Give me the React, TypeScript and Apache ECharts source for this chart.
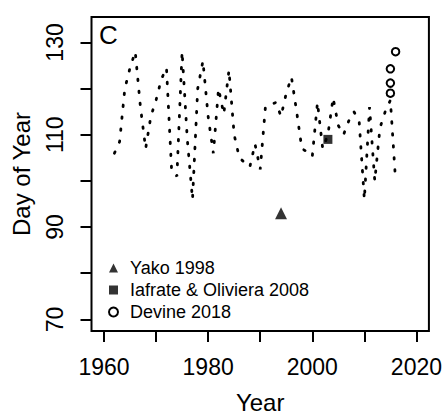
import React, { useEffect, useRef } from "react";
import * as echarts from "echarts";

const years = [
  1962, 1963, 1964, 1965, 1966, 1967, 1968, 1969, 1970, 1971,
  1972, 1973, 1974, 1975, 1976, 1977, 1978, 1979, 1980, 1981,
  1982, 1983, 1984, 1985, 1986, 1987, 1988, 1989, 1990, 1991,
  1992, 1993, 1994, 1995, 1996, 1997, 1998, 1999, 2000, 2001,
  2002, 2003, 2004, 2005, 2006, 2007, 2008, 2009, 2010, 2011,
  2012, 2013, 2014, 2015, 2016,
];
const dayOfYear = [
  106, 108.5, 120, 124.5, 128, 116, 107, 114, 117.5, 122,
  124.5, 102, 101, 128, 109, 96, 120, 126, 114, 106,
  120, 114.5, 124, 110, 105, 104, 103, 108, 102.5, 116,
  116.5, 117, 114, 119, 122.5, 115, 107, 106.3, 105.3, 117,
  107, 110, 118, 112, 110, 113, 115, 113, 96, 116,
  100, 111.5, 115, 117.5, 100,
];

const yakoYears = [1994];
const yakoValues = [93];
const iafrateYears = [2003];
const iafrateValues = [109];
const devineYears = [2015, 2015, 2015, 2016];
const devineValues = [119, 121.2, 124.3, 128];

const xTicks = [1960, 1970, 1980, 1990, 2000, 2010, 2020];
const xLabels = [1960, 1980, 2000, 2020];
const yTicks = [70, 80, 90, 100, 110, 120, 130];
const yLabels = [70, 90, 110, 130];

const seriesNames = ["Yako 1998", "Iafrate & Oliviera 2008", "Devine 2018"];

const FONT = "'Liberation Sans', Arial, sans-serif";

export default function App() {
  const ref = useRef<HTMLDivElement>(null);
  useEffect(() => {
    if (!ref.current) return;
    const chart = echarts.init(ref.current, undefined, { renderer: "svg" });
    const zip = (xs: number[], ys: number[]) => xs.map((x, i) => [x, ys[i]]);
    chart.setOption({
      animation: false,
      backgroundColor: "#fff",
      textStyle: { fontFamily: FONT, color: "#000" },
      title: {
        text: "C",
        left: 94,
        top: 17,
        textStyle: { fontFamily: FONT, fontSize: 26, fontWeight: "normal", color: "#000" },
      },
      grid: {
        left: 91.5,
        right: 16,
        top: 17,
        bottom: 86,
        show: true,
        borderColor: "#000",
        borderWidth: 2,
        backgroundColor: "transparent",
      },
      legend: {
        orient: "vertical",
        left: 103,
        top: 254,
        itemWidth: 9,
        itemHeight: 9,
        itemGap: 4,
        symbolKeepAspect: true,
        textStyle: {
          fontFamily: FONT,
          fontSize: 18,
          color: "#000",
          padding: [0, 0, 0, 7],
        },
        data: [
          { name: seriesNames[0], icon: "triangle" },
          { name: seriesNames[1], icon: "rect" },
          { name: seriesNames[2], icon: "emptyCircle" },
        ],
      },
      xAxis: {
        type: "value",
        min: 1957.6,
        max: 2022.4,
        name: "Year",
        nameLocation: "middle",
        nameGap: 59,
        nameTextStyle: { fontFamily: FONT, fontSize: 24, color: "#000" },
        axisLine: { show: false },
        splitLine: { show: false },
        axisTick: {
          show: true,
          length: 11,
          customValues: xTicks,
          lineStyle: { color: "#000", width: 2 },
        },
        axisLabel: {
          customValues: xLabels,
          formatter: (v: number) => String(v),
          margin: 24,
          fontFamily: FONT,
          fontSize: 23,
          color: "#000",
        },
      },
      yAxis: {
        type: "value",
        min: 67.48,
        max: 135.52,
        name: "Day of Year",
        nameLocation: "middle",
        nameRotate: 90,
        nameGap: 58,
        nameTextStyle: { fontFamily: FONT, fontSize: 24, color: "#000" },
        axisLine: { show: false },
        splitLine: { show: false },
        axisTick: {
          show: true,
          length: 11,
          customValues: yTicks,
          lineStyle: { color: "#000", width: 2 },
        },
        axisLabel: {
          customValues: yLabels,
          formatter: (v: number) => String(v),
          rotate: 90,
          margin: 25,
          fontFamily: FONT,
          fontSize: 23,
          color: "#000",
        },
      },
      series: [
        {
          type: "line",
          name: "timeseries",
          data: zip(years, dayOfYear),
          symbol: "none",
          lineStyle: { color: "#000", width: 2.8, type: [1.5, 10.5], cap: "round" },
          z: 2,
        },
        {
          type: "scatter",
          name: seriesNames[0],
          data: zip(yakoYears, yakoValues),
          symbol: "triangle",
          symbolSize: 12,
          itemStyle: { color: "#000" },
          z: 3,
        },
        {
          type: "scatter",
          name: seriesNames[1],
          data: zip(iafrateYears, iafrateValues),
          symbol: "rect",
          symbolSize: 9,
          itemStyle: { color: "#000" },
          z: 3,
        },
        {
          type: "scatter",
          name: seriesNames[2],
          data: zip(devineYears, devineValues),
          symbol: "emptyCircle",
          symbolSize: 7.5,
          itemStyle: { color: "#000", borderColor: "#000", borderWidth: 2.6, opacity: 1 },
          z: 3,
        },
      ],
    });
    return () => chart.dispose();
  }, []);
  return (
    <div
      ref={ref}
      style={{ position: "fixed", left: 0, top: 0, width: 445, height: 419 }}
    />
  );
}
